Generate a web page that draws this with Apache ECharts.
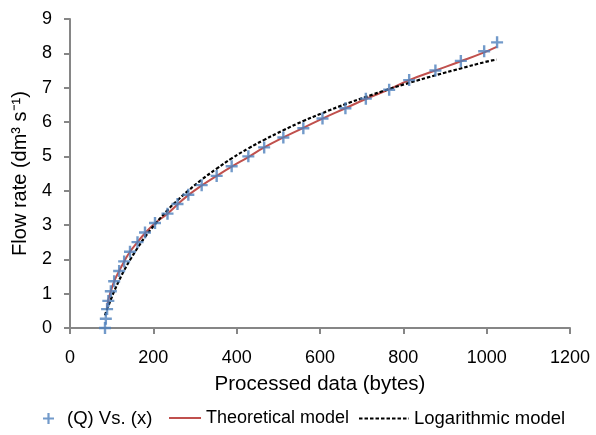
<!DOCTYPE html>
<html><head><meta charset="utf-8">
<script src="https://cdn.jsdelivr.net/npm/echarts@6/dist/echarts.min.js"></script>
<style>html,body{margin:0;padding:0;background:#fff}#c{width:596px;height:435px}</style>
</head><body><div id="c"></div>
<script>
// Measured points (Q) Vs. (x)
const obsX = [84, 86, 89, 92, 98, 106, 118, 130, 144, 162, 180, 204, 234, 258, 284, 316, 352, 388, 428, 466, 512, 560, 606, 661, 710, 766, 814, 877, 938, 994, 1025];
const obsQ = [0.0, 0.27, 0.55, 0.79, 1.07, 1.36, 1.66, 1.94, 2.22, 2.5, 2.78, 3.06, 3.33, 3.61, 3.88, 4.16, 4.43, 4.71, 5.0, 5.26, 5.55, 5.82, 6.1, 6.4, 6.68, 6.94, 7.22, 7.5, 7.78, 8.06, 8.32];
// Theoretical model curve
const theoX = [89, 92, 98, 106, 118, 130, 144, 162, 180, 204, 234, 258, 284, 316, 352, 388, 428, 466, 512, 560, 606, 661, 710, 766, 814, 877, 938, 994, 1024];
const theoQ = [0.6, 0.82, 1.07, 1.36, 1.66, 1.94, 2.22, 2.5, 2.76, 3.05, 3.33, 3.6, 3.87, 4.15, 4.43, 4.7, 4.98, 5.26, 5.55, 5.83, 6.1, 6.4, 6.67, 6.95, 7.22, 7.5, 7.77, 8.03, 8.19];
// Logarithmic model curve
const logX = [84, 89, 92, 98, 106, 118, 130, 144, 162, 180, 204, 234, 258, 284, 316, 352, 388, 428, 466, 512, 560, 606, 661, 710, 766, 814, 877, 938, 994, 1024];
const logQ = [0.37, 0.55, 0.64, 0.83, 1.07, 1.39, 1.68, 1.98, 2.33, 2.65, 3.02, 3.43, 3.72, 4.0, 4.32, 4.64, 4.94, 5.23, 5.48, 5.76, 6.03, 6.26, 6.52, 6.73, 6.96, 7.14, 7.36, 7.56, 7.74, 7.82];
const xTicks = [0, 200, 400, 600, 800, 1000, 1200];
const yTicks = [0, 1, 2, 3, 4, 5, 6, 7, 8, 9];
const seriesNames = ['(Q) Vs. (x)', 'Theoretical model', 'Logarithmic model'];

const zip = (a, b) => a.map((v, i) => [v, b[i]]);
const FONT = 'Liberation Sans, Arial, sans-serif';
const axisGray = '#868686';
const plus = 'path://M4,0 H6 V4 H10 V6 H6 V10 H4 V6 H0 V4 H4 Z';
const legendText = {fontSize: 18, color: '#000', fontFamily: FONT};
const hiddenSymbol = {color: 'rgba(0,0,0,0)', opacity: 0, borderWidth: 0};

const chart = echarts.init(document.getElementById('c'), null, {renderer: 'canvas'});
chart.setOption({
  animation: false,
  textStyle: {fontFamily: FONT},
  grid: {left: 70, right: 26, top: 19, bottom: 107, containLabel: false},
  xAxis: {
    type: 'value', min: xTicks[0], max: xTicks[xTicks.length - 1], interval: 200,
    name: 'Processed data (bytes)', nameLocation: 'middle', nameGap: 46,
    nameTextStyle: {fontSize: 20.5, color: '#000', fontFamily: FONT},
    axisLine: {show: true, onZero: false, lineStyle: {color: axisGray, width: 2}},
    axisTick: {show: true, inside: false, length: 6, lineStyle: {color: axisGray, width: 2}},
    axisLabel: {fontSize: 18, color: '#000', margin: 21, fontFamily: FONT, formatter: v => String(v)},
    splitLine: {show: false}
  },
  yAxis: {
    type: 'value', min: yTicks[0], max: yTicks[yTicks.length - 1], interval: 1,
    name: 'Flow rate (dm\u00B3 s\u207B\u00B9)', nameLocation: 'middle', nameGap: 40, nameRotate: 90,
    nameTextStyle: {fontSize: 20, color: '#000', fontFamily: FONT},
    axisLine: {show: true, onZero: false, lineStyle: {color: axisGray, width: 2}},
    axisTick: {show: true, inside: false, length: 6, lineStyle: {color: axisGray, width: 2}},
    axisLabel: {fontSize: 18, color: '#000', margin: 18, fontFamily: FONT, formatter: v => String(v)},
    splitLine: {show: false}
  },
  legend: [
    {
      top: 409, left: 43, padding: 0, itemWidth: 11, itemHeight: 11,
      textStyle: Object.assign({padding: [0, 0, 0, 8]}, legendText, {fontSize: 18.5}),
      data: [{name: seriesNames[0], icon: plus, itemStyle: {color: '#4F81BD'}}]
    },
    {
      top: 409, left: 168, padding: 0, itemWidth: 32, itemHeight: 14,
      textStyle: legendText, itemStyle: hiddenSymbol,
      data: [{name: seriesNames[1]}]
    },
    {
      top: 409, left: 358, padding: 0, itemWidth: 50, itemHeight: 14,
      textStyle: Object.assign({}, legendText, {fontSize: 18.5}), itemStyle: hiddenSymbol,
      data: [{name: seriesNames[2]}]
    }
  ],
  series: [
    {
      name: seriesNames[1], type: 'line', data: zip(theoX, theoQ), symbol: 'none', smooth: true,
      lineStyle: {color: '#C0504D', width: 2}, itemStyle: {color: '#C0504D'}, z: 2
    },
    {
      name: seriesNames[2], type: 'line', data: zip(logX, logQ), symbol: 'none', smooth: true,
      lineStyle: {color: '#000', width: 2.2, type: [3.5, 2]}, itemStyle: {color: '#000'}, z: 3
    },
    {
      name: seriesNames[0], type: 'scatter', data: zip(obsX, obsQ), symbol: plus, symbolSize: 12,
      itemStyle: {color: '#4F81BD'}, z: 4
    }
  ]
});
</script></body></html>
